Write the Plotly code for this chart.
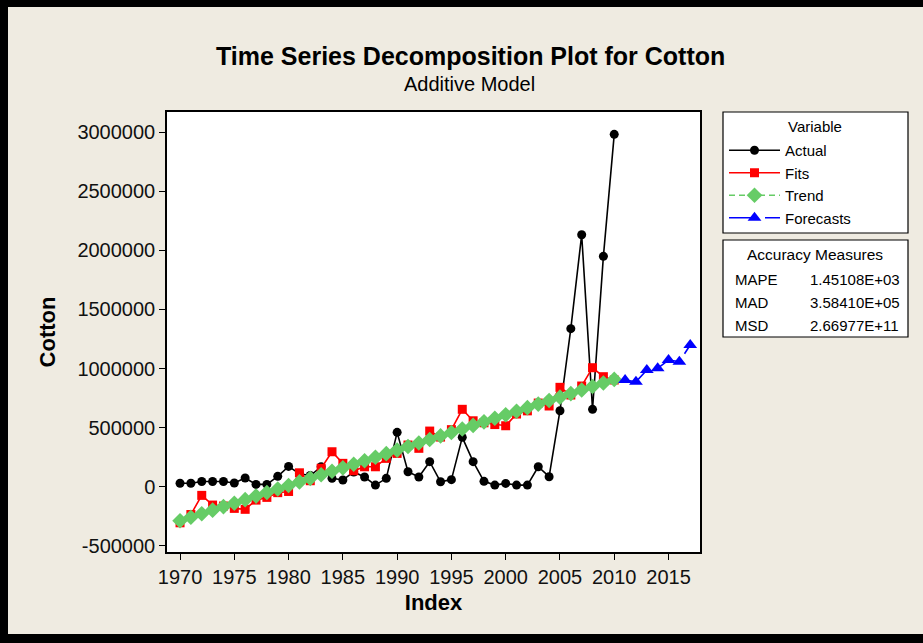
import plotly.graph_objects as go

# ── Data ──────────────────────────────────────────────────────────────────────

years = list(range(1970, 2011))
forecast_years = list(range(2011, 2018))

actual = [
    30000, 30000, 44000, 44000, 44000, 32000, 74000, 20000, 20000, 88000,
    172000, 110000, 95000, 169000, 71000, 57000, 125000, 82000, 14000, 71000,
    460000, 127000, 82000, 212000, 42000, 60000, 418000, 212000, 46000, 14000,
    28000, 14000, 14000, 169000, 85000, 643000, 1337000, 2132000, 655000, 1949000,
    2981000,
]

fits = [
    -305000, -235000, -73000, -155000, -163000, -183000, -191000, -113000, -90000, -50000,
    -40000, 118000, 51000, 156000, 296000, 198000, 135000, 169000, 169000, 240000,
    282000, 353000, 325000, 471000, 420000, 483000, 655000, 558000, 541000, 526000,
    516000, 615000, 642000, 708000, 683000, 841000, 776000, 852000, 1007000, 931000,
    903000,
]

trend = [
    -288000, -258000, -228000, -198000, -168000, -139000, -109000, -79000, -49000, -19000,
    11000, 41000, 71000, 101000, 131000, 160000, 190000, 220000, 250000, 280000,
    310000, 340000, 370000, 400000, 430000, 459000, 489000, 519000, 549000, 579000,
    609000, 639000, 669000, 699000, 729000, 758000, 788000, 818000, 848000, 878000,
    908000,
]

forecasts = [903000, 888000, 987000, 1002000, 1072000, 1058000, 1199000]

x_ticks = [1970, 1975, 1980, 1985, 1990, 1995, 2000, 2005, 2010, 2015]
y_ticks = [-500000, 0, 500000, 1000000, 1500000, 2000000, 2500000, 3000000]
y_labels = ["-500000", "0", "500000", "1000000", "1500000", "2000000", "2500000", "3000000"]

measures = ["MAPE", "MAD", "MSD"]
measure_values = ["1.45108E+03", "3.58410E+05", "2.66977E+11"]

# ── Geometry helpers (pixels -> paper) ───────────────────────────────────────

W, H = 923, 643
L, R, T, B = 167, 700, 112, 552


def px(x):
    return (x - L) / (R - L)


def py(y):
    return (B - y) / (B - T)


FONT = "Liberation Sans, Arial, sans-serif"
BG = "#EFEBE1"

fig = go.Figure()

fig.add_trace(go.Scatter(
    x=years, y=actual, name="Actual", mode="lines+markers", legendgroup="a",
    line=dict(color="black", width=1.6),
    marker=dict(symbol="circle", size=9, color="black"),
))
fig.add_trace(go.Scatter(
    x=years, y=fits, name="Fits", mode="lines+markers", legendgroup="b",
    line=dict(color="#FF0000", width=1.6),
    marker=dict(symbol="square", size=9, color="#FF0000"),
))
fig.add_trace(go.Scatter(
    x=years, y=trend, name="Trend", mode="lines+markers", legendgroup="c",
    line=dict(color="#66CC66", width=1.6, dash="6px,4px"),
    marker=dict(symbol="diamond", size=12, color="#66CC66"),
))
fig.add_trace(go.Scatter(
    x=forecast_years, y=forecasts, name="Forecasts", mode="lines+markers", legendgroup="d",
    line=dict(color="#0000FF", width=1.6, dash="26px,10px"),
    marker=dict(symbol="triangle-up", size=12, color="#0000FF"),
))

# ── Boxes, frame, annotations ────────────────────────────────────────────────

shapes = [
    # outer black frame (top, left, bottom)
    dict(type="rect", xref="paper", yref="paper", x0=px(0), x1=px(W), y0=py(0), y1=py(7),
         fillcolor="black", line=dict(width=0), layer="above"),
    dict(type="rect", xref="paper", yref="paper", x0=px(0), x1=px(8), y0=py(0), y1=py(H),
         fillcolor="black", line=dict(width=0), layer="above"),
    dict(type="rect", xref="paper", yref="paper", x0=px(0), x1=px(W), y0=py(634), y1=py(H),
         fillcolor="black", line=dict(width=0), layer="above"),
    # legend box
    dict(type="rect", xref="paper", yref="paper", x0=px(723), x1=px(908), y0=py(233), y1=py(112),
         fillcolor="white", line=dict(color="black", width=1.2), layer="below"),
    # accuracy box
    dict(type="rect", xref="paper", yref="paper", x0=px(723), x1=px(908), y0=py(337), y1=py(240),
         fillcolor="white", line=dict(color="black", width=1.2), layer="below"),
]

annotations = [
    dict(text="<b>Time Series Decomposition Plot for Cotton</b>", x=px(470), y=py(56),
         font=dict(size=25, color="black")),
    dict(text="Additive Model", x=px(469), y=py(84), font=dict(size=20, color="black")),
    dict(text="Variable", x=px(815), y=py(127), font=dict(size=15, color="black")),
    dict(text="Accuracy Measures", x=px(815), y=py(255), font=dict(size=15.5, color="black")),
]
for i, (m, v) in enumerate(zip(measures, measure_values)):
    yy = py(279 + 23 * i)
    annotations.append(dict(text=m, x=px(733), y=yy, xanchor="left",
                            font=dict(size=15, color="black")))
    annotations.append(dict(text=v, x=px(808), y=yy, xanchor="left",
                            font=dict(size=15, color="black")))

for a in annotations:
    a.update(xref="paper", yref="paper", showarrow=False)
    a.setdefault("xanchor", "center")
    a["yanchor"] = "middle"

fig.update_layout(
    width=W, height=H,
    margin=dict(l=L, r=W - R, t=T, b=H - B, pad=0),
    paper_bgcolor=BG,
    plot_bgcolor="white",
    font=dict(family=FONT, color="black"),
    showlegend=True,
    legend=dict(
        x=px(724), y=py(134), xanchor="left", yanchor="top",
        bgcolor="rgba(0,0,0,0)", borderwidth=0,
        font=dict(size=15, color="black"),
        itemwidth=51, tracegroupgap=4, traceorder="normal",
    ),
    xaxis=dict(
        range=[1968.8, 2017.9], tickvals=x_ticks,
        showgrid=False, zeroline=False,
        showline=True, linecolor="black", linewidth=1.5, mirror=True,
        ticks="outside", ticklen=6, tickwidth=1.2, tickcolor="black",
        tickfont=dict(size=20, color="#111"),
        title=dict(text="<b>Index</b>", font=dict(size=22, color="black"), standoff=8),
    ),
    yaxis=dict(
        range=[-552000, 3170000], tickvals=y_ticks, ticktext=y_labels,
        showgrid=False, zeroline=False,
        showline=True, linecolor="black", linewidth=1.5, mirror=True,
        ticks="outside", ticklen=6, tickwidth=1.2, tickcolor="black",
        tickfont=dict(size=20, color="#111"),
        title=dict(text="<b>Cotton</b>", font=dict(size=22, color="black"), standoff=16),
    ),
    shapes=shapes,
    annotations=annotations,
)

fig.write_html(
    "out.html",
    config={"displayModeBar": False},
    post_script=(
        "document.body.style.margin='0';"
        "document.body.style.overflow='hidden';"
        "document.documentElement.style.overflow='hidden';"
        "document.body.style.background='" + BG + "';"
    ),
)
